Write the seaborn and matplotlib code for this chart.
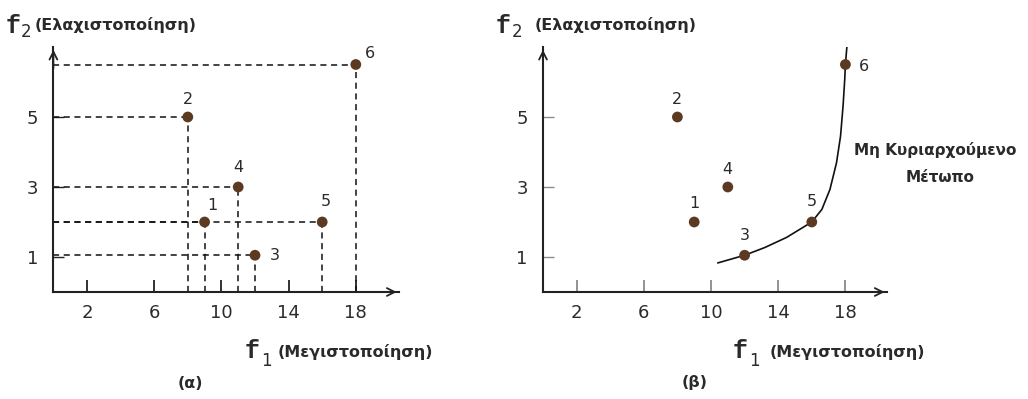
import matplotlib
matplotlib.use("Agg")
import matplotlib.pyplot as plt
import seaborn as sns
import pandas as pd

# ---- data ----
point_ids = ["1", "2", "3", "4", "5", "6"]
f1_values = [9, 8, 12, 11, 16, 18]
f2_values = [2, 5, 1.05, 3, 2, 6.5]
x_ticks = [2, 6, 10, 14, 18]
y_ticks = [1, 3, 5]
front_f1 = [10.4, 12.0, 13.2, 14.5, 16.0, 16.6, 17.08, 17.47, 17.71, 17.86, 17.96, 18.0, 18.1]
front_f2 = [0.83, 1.05, 1.27, 1.56, 2.0, 2.36, 2.93, 3.69, 4.45, 5.31, 6.07, 6.5, 7.07]

# label offsets (pixels) for point numbers in each panel
offs_a = {"1": (8, 17), "2": (0, 18), "3": (20, 0), "4": (0, 20), "5": (4, 20), "6": (14, 11)}
offs_b = {"1": (0, 18), "2": (0, 18), "3": (0, 20), "4": (0, 18), "5": (0, 20), "6": (19, -2)}

df = pd.DataFrame({"f1": f1_values, "f2": f2_values, "id": point_ids})
front = pd.DataFrame({"f1": front_f1, "f2": front_f2})

sns.set_theme(style="white")
plt.rcParams["font.family"] = ["DejaVu Sans"]

W, H = 1028, 399
fig = plt.figure(figsize=(W / 100, H / 100), dpi=100)

dot_color = "#5c3a22"
text_color = "#2a2a2a"
axis_color = "#222222"
PX = 72 / 100  # points per pixel


def make_axes(left_px, xmax, tick_color):
    ax = fig.add_axes([left_px / W, (H - 292) / H, xmax * 16.8 / W, 245 / H])
    ax.set_xlim(0, xmax)
    ax.set_ylim(0, 7.0)
    for s in ["top", "right"]:
        ax.spines[s].set_visible(False)
    for s in ["left", "bottom"]:
        ax.spines[s].set_color(axis_color)
        ax.spines[s].set_linewidth(1.5)
    ax.set_xticks(x_ticks)
    ax.set_yticks(y_ticks)
    ax.set_xticklabels([str(v) for v in x_ticks])
    ax.set_yticklabels([str(v) for v in y_ticks])
    ax.tick_params(axis="x", bottom=True, direction="in", length=9, width=1.3, color=tick_color,
                   pad=9, labelsize=13, labelcolor=text_color)
    ax.tick_params(axis="y", left=True, direction="in", length=8, width=1.0, color=tick_color,
                   pad=11, labelsize=13, labelcolor=text_color)
    # arrow heads
    ax.annotate("", xy=(1.0, 0), xytext=(0.9, 0), xycoords="axes fraction",
                arrowprops=dict(arrowstyle="->", lw=1.3, color=axis_color, mutation_scale=14))
    ax.annotate("", xy=(0, 1.0), xytext=(0, 0.9), xycoords="axes fraction",
                arrowprops=dict(arrowstyle="->", lw=1.3, color=axis_color, mutation_scale=14))
    return ax


def label_points(ax, offs):
    for _, r in df.iterrows():
        dx, dy = offs[r["id"]]
        ax.annotate(r["id"], (r["f1"], r["f2"]), xytext=(dx * PX, dy * PX),
                    textcoords="offset points", ha="center", va="center",
                    fontsize=11.5, color=text_color)


# ---------- panel (a) ----------
axa = make_axes(53.4, 20.6, axis_color)
axa.hlines(df["f2"], 0, df["f1"], colors="#111111", linestyles=(0, (4, 3)), lw=1.1, zorder=2)
axa.vlines(df["f1"], 0, df["f2"], colors="#111111", linestyles=(0, (4, 3)), lw=1.1, zorder=2)
sns.scatterplot(data=df, x="f1", y="f2", ax=axa, color=dot_color, s=60, edgecolor="none",
                zorder=3, legend=False)
label_points(axa, offs_a)
axa.set_xlabel("")
axa.set_ylabel("")

# ---------- panel (b) ----------
axb = make_axes(543, 20.5, "#8a8a8a")
sns.lineplot(data=front, x="f1", y="f2", ax=axb, sort=False, color="#111111", lw=1.2, zorder=2)
sns.scatterplot(data=df, x="f1", y="f2", ax=axb, color=dot_color, s=60, edgecolor="none",
                zorder=3, legend=False)
label_points(axb, offs_b)
axb.set_xlabel("")
axb.set_ylabel("")


def fx(px):
    return px / W


def fy(py):
    return 1 - py / H


def axis_label(x_f, y_base, sub, sub_x, sub_base, word, word_x, word_base):
    fig.text(fx(x_f), fy(y_base), "f", fontfamily="Liberation Mono", fontsize=18,
             fontweight="bold", color=text_color, ha="left", va="baseline")
    fig.text(fx(sub_x), fy(sub_base), sub, fontfamily="DejaVu Sans", fontsize=12,
             color=text_color, ha="left", va="baseline")
    fig.text(fx(word_x), fy(word_base), word, fontsize=11.5, fontweight="bold",
             color=text_color, ha="left", va="baseline")


axis_label(6, 33, "2", 21, 37, "(Ελαχιστοποίηση)", 35, 30)
axis_label(496, 33, "2", 512, 37, "(Ελαχιστοποίηση)", 535, 30)
axis_label(245, 358, "1", 261, 366, "(Μεγιστοποίηση)", 278, 357)
axis_label(733, 358, "1", 749, 366, "(Μεγιστοποίηση)", 770, 357)

fig.text(fx(190), fy(383), "(α)", fontsize=11.5, fontweight="bold", color=text_color,
         ha="center", va="center")
fig.text(fx(695), fy(383), "(β)", fontsize=11.5, fontweight="bold", color=text_color,
         ha="center", va="center")
fig.text(fx(935), fy(150), "Μη Κυριαρχούμενο", fontsize=11, fontweight="bold",
         color=text_color, ha="center", va="center")
fig.text(fx(940), fy(178), "Μέτωπο", fontsize=11, fontweight="bold",
         color=text_color, ha="center", va="center")

fig.savefig("out.png", dpi=100, facecolor="white")
